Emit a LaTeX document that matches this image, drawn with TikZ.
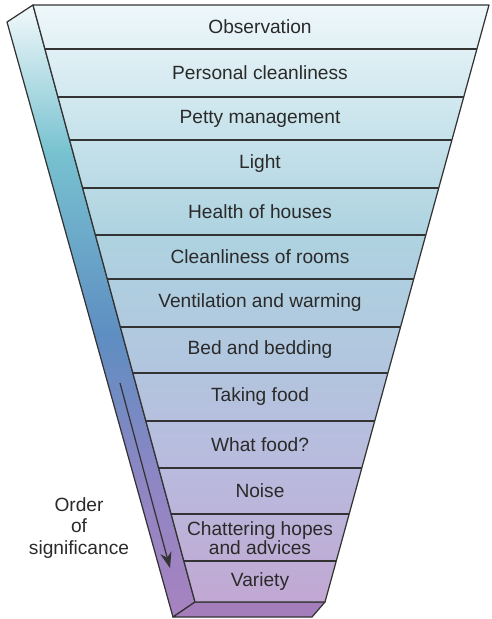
\documentclass[tikz,border=0pt]{standalone}
\usepackage{fontspec}
\setmainfont{Liberation Sans}
\usetikzlibrary{arrows.meta}

\definecolor{inkgray}{HTML}{2A2A2A}
\definecolor{edgegray}{HTML}{333333}
\definecolor{slabpurple}{HTML}{A47EBB}
\definecolor{fbot}{HTML}{C1A8D3}
\definecolor{fmidlow}{HTML}{B9BADD}
\definecolor{fmid}{HTML}{B1C7DF}
\definecolor{fmidhigh}{HTML}{AED3E0}
\definecolor{fupper}{HTML}{CDE6EE}
\definecolor{ftop}{HTML}{EEF7FA}
\definecolor{sbot}{HTML}{A882C0}
\definecolor{slow}{HTML}{8F86C4}
\definecolor{smid}{HTML}{5E8EC2}
\definecolor{shigh}{HTML}{78C2D0}
\definecolor{stop}{HTML}{F2F9FB}

% shadings run from 25bp (bottom of the path) to 75bp (top of the path)
\pgfdeclareverticalshading{frontface}{100bp}{%
  color(0bp)=(fbot);
  color(25bp)=(fbot);
  color(36bp)=(fmidlow);
  color(46bp)=(fmid);
  color(56bp)=(fmidhigh);
  color(66bp)=(fupper);
  color(75bp)=(ftop);
  color(100bp)=(ftop)}
\pgfdeclareverticalshading{sideface}{100bp}{%
  color(0bp)=(sbot);
  color(25bp)=(sbot);
  color(36bp)=(slow);
  color(48bp)=(smid);
  color(63bp)=(shigh);
  color(75bp)=(stop);
  color(100bp)=(stop)}

\tikzset{
  band/.style={font=\fontsize{10.9}{12}\selectfont, text=inkgray, align=center, inner sep=0pt},
  divider/.style={draw=edgegray, line width=0.8pt},
  outline/.style={draw=edgegray, line width=0.7pt, line join=round}
}

\begin{document}
\begin{tikzpicture}[x=0.02cm, y=-0.02cm]
		\useasboundingbox (0,0) rectangle (491,619);
		
		% corners of the funnel
		\coordinate (tl) at (33,5);
		\coordinate (tr) at (489,5);
		\coordinate (bl) at (195,602);
		\coordinate (br) at (325,602);
		\coordinate (stl) at (7,22);
		\coordinate (sbl) at (173,617);
		\coordinate (sbr) at (312,617);
		
		% side face
		\shade[shading=sideface] (tl) -- (stl) -- (sbl) -- (bl) -- cycle;
		\draw[outline] (tl) -- (stl) -- (sbl) -- (bl) -- cycle;
		
		% bottom face
		\fill[slabpurple] (bl) -- (sbl) -- (sbr) -- (br) -- cycle;
		\draw[outline] (bl) -- (sbl) -- (sbr) -- (br) -- cycle;
		
		% front face
		\shade[shading=frontface] (tl) -- (tr) -- (br) -- (bl) -- cycle;
		\draw[outline] (tl) -- (tr) -- (br) -- (bl) -- cycle;
		
		\foreach \y in {49,97,140,188,235,279,327,373,421,468,514,561}
		\draw[divider] ({33+0.2714*(\y-5)},\y) -- ({489-0.2747*(\y-5)},\y);
		
		% labels
		\node[band] (observation) at (260,27) {Observation};
		\node[band] (personal) at (260,73) {Personal cleanliness};
		\node[band] (petty) at (260,118.5) {Petty management};
		\node[band] (light) at (260,164) {Light};
		\node[band] (houses) at (260,211.5) {Health of houses};
		\node[band] (rooms) at (260,257) {Cleanliness of rooms};
		\node[band] (ventilation) at (260,303) {Ventilation and warming};
		\node[band] (bed) at (260,350) {Bed and bedding};
		\node[band] (taking) at (260,397) {Taking food};
		\node[band] (whatfood) at (260,444.5) {What food?};
		\node[band] (noise) at (260,491) {Noise};
		\node[band, font=\fontsize{10.9}{11.2}\selectfont] (chattering) at (260,538) {Chattering hopes\\and advices};
		\node[band] (variety) at (260,582) {Variety};
		
		% order arrow
		\coordinate (arrtop) at (120,383);
		\coordinate (arrtip) at (170,568);
		\draw[edgegray, line width=0.7pt, -{Stealth[length=9pt, width=6.5pt]}] (arrtop) -- (arrtip);
		
		\node[band, font=\fontsize{10.9}{12.3}\selectfont] (order) at (79,528) {Order\\of\\significance};
		
	\end{tikzpicture}
\end{document}
